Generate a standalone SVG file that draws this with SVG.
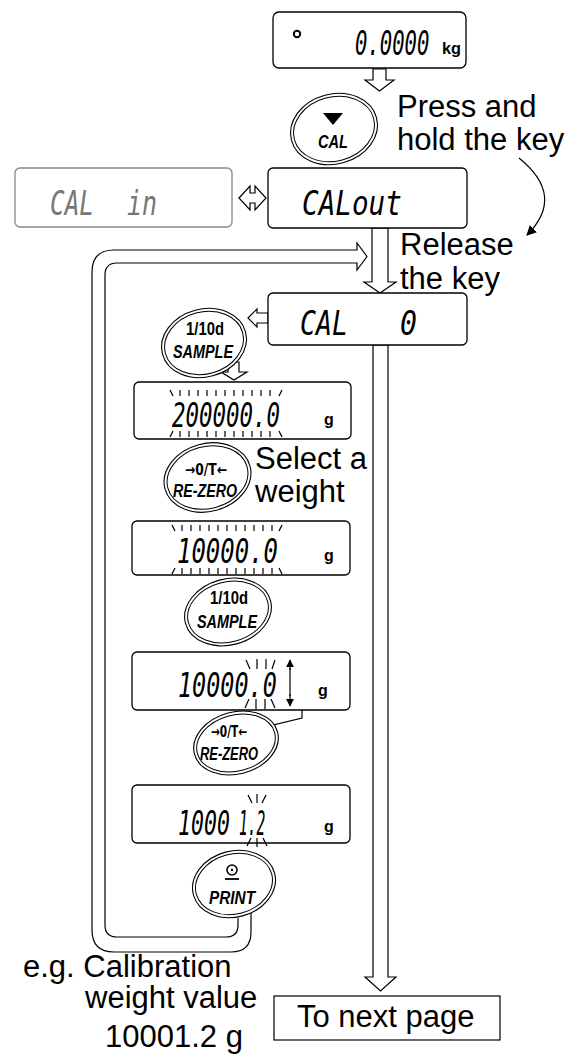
<svg xmlns="http://www.w3.org/2000/svg" width="585" height="1064" viewBox="0 0 585 1064">
<style>
.disp{fill:#fff;stroke:#000;stroke-width:1.3}
.dispg{fill:#fff;stroke:#888;stroke-width:1.3}
.seg{font-family:"DejaVu Sans Mono",monospace;font-style:oblique;font-size:34px;fill:#000}
.segg{font-family:"DejaVu Sans Mono",monospace;font-style:oblique;font-size:34px;fill:#777}
.unit{font-family:"Liberation Sans",Arial,sans-serif;font-weight:bold;font-size:16px;fill:#000}
.lbl{font-family:"Liberation Sans",Arial,sans-serif;font-size:31px;fill:#000}
.k1{font-family:"Liberation Sans",Arial,sans-serif;font-weight:bold;font-size:18px;fill:#000;text-anchor:middle}
.k3{font-family:"DejaVu Sans",sans-serif;font-weight:bold;font-size:15px;fill:#000;text-anchor:middle}
.k2{font-family:"Liberation Sans",Arial,sans-serif;font-weight:bold;font-style:italic;font-size:19px;fill:#000;text-anchor:middle}
.key{fill:#fff;stroke:#000;stroke-width:1.1}
.keyi{fill:none;stroke:#000;stroke-width:1}
.hollow{fill:#fff;stroke:#000;stroke-width:1.2;stroke-linejoin:miter}
.tick{stroke:#000;stroke-width:1.2}
.ln{fill:none;stroke:#000;stroke-width:1.2}
</style>
<defs>
<marker id="ah" viewBox="0 0 10 10" refX="9" refY="5" markerWidth="8" markerHeight="8" orient="auto" markerUnits="userSpaceOnUse"><path d="M0,0 L10,5 L0,10 z" fill="#000"/></marker>
<marker id="ah2" viewBox="0 0 10 10" refX="9" refY="5" markerWidth="10" markerHeight="10" orient="auto" markerUnits="userSpaceOnUse"><path d="M0,0 L10,5 L0,10 z" fill="#000"/></marker>
</defs>

<g id="connectors">
  <polygon class="hollow" points="373,69 386,69 386,80 394,80 379.5,91 365,80 373,80"/>
  <polygon class="hollow" points="239,198 250,186 250,193 255,193 255,186 266,198 255,210 255,203 250,203 250,210"/>
  <path class="ln" d="M519,158 Q566,196 527,235" marker-end="url(#ah2)"/>
  <path class="ln" d="M251,912 V932 Q251,952 231,952 H114 Q92,952 92,930 V272 Q92,250 114,250 H357 V243 L367,256.5 L357,270 V263 H117 Q105,263 105,275 V925 Q105,937 117,937 H226 Q238,937 238,925 V918"/>
  <polygon class="hollow" points="372,228 388,228 388,282 396,282 380,293 364,282 372,282"/>
  <polygon class="hollow" points="248,318 257,309 257,313 268,313 268,323 257,323 257,327"/>
  <polygon class="hollow" points="228,362 239,362 239,372 247,372 234,380 221,372 228,372"/>
  <polygon class="hollow" points="373,345 388,345 388,977 396,977 380.5,991 365,977 373,977"/>
  <path class="ln" d="M292,682 H302 V718 L252,730"/>
</g>

<g id="disp-top">
  <rect class="disp" x="273" y="12" width="193" height="56" rx="6"/>
  <circle cx="297" cy="34" r="3.2" fill="none" stroke="#000" stroke-width="2"/>
  <text class="seg" font-size="37" transform="translate(355,55) scale(0.606,1)">0.0000</text>
  <text class="unit" x="442" y="54" font-size="13" textLength="19" lengthAdjust="spacingAndGlyphs">kg</text>
</g>

<g id="key-cal">
  <ellipse class="key" cx="334" cy="129" rx="44" ry="35" transform="rotate(-15 334 129)"/>
  <ellipse class="keyi" cx="334" cy="129" rx="41" ry="32" transform="rotate(-15 334 129)"/>
  <polygon points="323,113 343,113 333,125" fill="#000"/>
  <text class="k2" x="333" y="148" textLength="30" lengthAdjust="spacingAndGlyphs">CAL</text>
</g>

<g id="label-press">
  <text class="lbl" x="397" y="117">Press and</text>
  <text class="lbl" x="397" y="150">hold the key</text>
</g>

<g id="disp-calin">
  <rect class="dispg" x="15" y="168" width="217" height="59" rx="5"/>
  <text class="segg" transform="translate(50,215) scale(0.717,1)">CAL</text>
  <text class="segg" transform="translate(127,215) scale(0.733,1)">in</text>
</g>

<g id="disp-calout">
  <rect class="disp" x="268" y="168" width="199" height="60" rx="5"/>
  <text class="seg" transform="translate(302,215) scale(0.814,1)">CALout</text>
</g>

<g id="label-release">
  <text class="lbl" x="400" y="255">Release</text>
  <text class="lbl" x="400" y="289">the key</text>
</g>

<g id="disp-cal0">
  <rect class="disp" x="268" y="293" width="199" height="52" rx="5"/>
  <text class="seg" transform="translate(300,335) scale(0.78,1)">CAL</text>
  <text class="seg" transform="translate(400,335) scale(0.83,1)">0</text>
</g>

<g id="key-sample1">
  <ellipse class="key" cx="204" cy="343" rx="43" ry="34" transform="rotate(-15 204 343)"/>
  <ellipse class="keyi" cx="204" cy="343" rx="40" ry="31" transform="rotate(-15 204 343)"/>
  <text class="k1" x="205" y="335" font-size="19" textLength="38" lengthAdjust="spacingAndGlyphs">1/10d</text>
  <text class="k2" x="203" y="358" textLength="60" lengthAdjust="spacingAndGlyphs">SAMPLE</text>
</g>

<g id="disp-200000">
  <rect class="disp" x="134" y="382" width="217" height="57" rx="5"/>
  <g class="tick">
    <line x1="170" y1="390" x2="173" y2="396"/>
    <line x1="180" y1="390" x2="180" y2="396"/><line x1="189" y1="390" x2="189" y2="396"/>
    <line x1="198" y1="390" x2="198" y2="396"/><line x1="207" y1="390" x2="207" y2="396"/>
    <line x1="216" y1="390" x2="216" y2="396"/><line x1="225" y1="390" x2="225" y2="396"/>
    <line x1="234" y1="390" x2="234" y2="396"/><line x1="243" y1="390" x2="243" y2="396"/>
    <line x1="252" y1="390" x2="252" y2="396"/><line x1="261" y1="390" x2="261" y2="396"/>
    <line x1="270" y1="390" x2="270" y2="396"/>
    <line x1="282" y1="390" x2="279" y2="396"/>
    <line x1="173" y1="431" x2="170" y2="437"/>
    <line x1="180" y1="431" x2="180" y2="437"/><line x1="189" y1="431" x2="189" y2="437"/>
    <line x1="198" y1="431" x2="198" y2="437"/><line x1="207" y1="431" x2="207" y2="437"/>
    <line x1="216" y1="431" x2="216" y2="437"/><line x1="225" y1="431" x2="225" y2="437"/>
    <line x1="234" y1="431" x2="234" y2="437"/><line x1="243" y1="431" x2="243" y2="437"/>
    <line x1="252" y1="431" x2="252" y2="437"/><line x1="261" y1="431" x2="261" y2="437"/>
    <line x1="270" y1="431" x2="270" y2="437"/>
    <line x1="279" y1="431" x2="282" y2="437"/>
  </g>
  <text class="seg" transform="translate(172,427) scale(0.66,1)">200000.0</text>
  <text class="unit" x="324" y="425">g</text>
</g>

<g id="key-rezero1">
  <ellipse class="key" cx="207.5" cy="477.5" rx="44" ry="34" transform="rotate(-15 207.5 477.5)"/>
  <ellipse class="keyi" cx="207.5" cy="477.5" rx="41" ry="31" transform="rotate(-15 207.5 477.5)"/>
  <text class="k3" x="206" y="475" textLength="42" lengthAdjust="spacingAndGlyphs">→0/T←</text>
  <text class="k2" x="205" y="497" textLength="64" lengthAdjust="spacingAndGlyphs">RE-ZERO</text>
</g>

<g id="label-select">
  <text class="lbl" x="255" y="469">Select a</text>
  <text class="lbl" x="255" y="502">weight</text>
</g>

<g id="disp-10000a">
  <rect class="disp" x="132" y="521" width="218" height="54" rx="5"/>
  <g class="tick">
    <line x1="172" y1="525" x2="175" y2="531"/>
    <line x1="182" y1="525" x2="182" y2="531"/><line x1="191" y1="525" x2="191" y2="531"/>
    <line x1="200" y1="525" x2="200" y2="531"/><line x1="209" y1="525" x2="209" y2="531"/>
    <line x1="218" y1="525" x2="218" y2="531"/><line x1="227" y1="525" x2="227" y2="531"/>
    <line x1="236" y1="525" x2="236" y2="531"/><line x1="245" y1="525" x2="245" y2="531"/>
    <line x1="254" y1="525" x2="254" y2="531"/><line x1="263" y1="525" x2="263" y2="531"/>
    <line x1="272" y1="525" x2="272" y2="531"/>
    <line x1="282" y1="525" x2="279" y2="531"/>
    <line x1="175" y1="568" x2="172" y2="574"/>
    <line x1="182" y1="568" x2="182" y2="574"/><line x1="191" y1="568" x2="191" y2="574"/>
    <line x1="200" y1="568" x2="200" y2="574"/><line x1="209" y1="568" x2="209" y2="574"/>
    <line x1="218" y1="568" x2="218" y2="574"/><line x1="227" y1="568" x2="227" y2="574"/>
    <line x1="236" y1="568" x2="236" y2="574"/><line x1="245" y1="568" x2="245" y2="574"/>
    <line x1="254" y1="568" x2="254" y2="574"/><line x1="263" y1="568" x2="263" y2="574"/>
    <line x1="272" y1="568" x2="272" y2="574"/>
    <line x1="279" y1="568" x2="282" y2="574"/>
  </g>
  <text class="seg" transform="translate(177,563) scale(0.705,1)">10000.0</text>
  <text class="unit" x="324" y="561">g</text>
</g>

<g id="key-sample2">
  <ellipse class="key" cx="228" cy="612" rx="44" ry="33" transform="rotate(-15 228 612)"/>
  <ellipse class="keyi" cx="228" cy="612" rx="41" ry="30" transform="rotate(-15 228 612)"/>
  <text class="k1" x="229" y="604" font-size="19" textLength="38" lengthAdjust="spacingAndGlyphs">1/10d</text>
  <text class="k2" x="227" y="628" textLength="60" lengthAdjust="spacingAndGlyphs">SAMPLE</text>
</g>

<g id="disp-10000b">
  <rect class="disp" x="132" y="652" width="218" height="58" rx="5"/>
  <g class="tick">
    <line x1="246" y1="660" x2="250" y2="669"/>
    <line x1="257" y1="659" x2="257" y2="669"/>
    <line x1="266" y1="659" x2="266" y2="669"/>
    <line x1="275" y1="660" x2="272" y2="669"/>
    <line x1="249" y1="699" x2="245" y2="708"/>
    <line x1="256" y1="699" x2="256" y2="709"/>
    <line x1="265" y1="699" x2="265" y2="709"/>
    <line x1="271" y1="699" x2="275" y2="708"/>
  </g>
  <text class="seg" transform="translate(178,697) scale(0.69,1)">10000.0</text>
  <line class="ln" x1="290" y1="670" x2="290" y2="660" marker-end="url(#ah)"/>
  <line class="ln" x1="290" y1="694" x2="290" y2="706" marker-end="url(#ah)"/>
  <line class="ln" x1="290" y1="668" x2="290" y2="696"/>
  <text class="unit" x="318" y="696">g</text>
</g>

<g id="key-rezero2">
  <ellipse class="key" cx="236" cy="743" rx="43" ry="31" transform="rotate(-15 236 743)"/>
  <ellipse class="keyi" cx="236" cy="743" rx="40" ry="28" transform="rotate(-15 236 743)"/>
  <text class="k3" x="229" y="737" font-size="14" textLength="36" lengthAdjust="spacingAndGlyphs">→0/T←</text>
  <text class="k2" x="229" y="760" textLength="58" lengthAdjust="spacingAndGlyphs">RE-ZERO</text>
</g>

<g id="disp-10001">
  <rect class="disp" x="132" y="785" width="218" height="58" rx="5"/>
  <g class="tick">
    <line x1="248" y1="795" x2="252" y2="803"/>
    <line x1="257" y1="794" x2="257" y2="803"/>
    <line x1="266" y1="795" x2="262" y2="803"/>
    <line x1="251" y1="838" x2="247" y2="846"/>
    <line x1="257" y1="838" x2="257" y2="847"/>
    <line x1="263" y1="838" x2="267" y2="846"/>
  </g>
  <text class="seg" transform="translate(178,835) scale(0.635,1)">1000</text>
  <text class="seg" transform="translate(239,835) scale(0.43,1)">1.2</text>
  <text class="unit" x="324" y="832">g</text>
</g>

<g id="key-print">
  <ellipse class="key" cx="234" cy="884" rx="42" ry="33" transform="rotate(-15 234 884)"/>
  <ellipse class="keyi" cx="234" cy="884" rx="39" ry="30" transform="rotate(-15 234 884)"/>
  <circle cx="232" cy="870" r="5" fill="none" stroke="#000" stroke-width="1.6"/>
  <circle cx="232" cy="870" r="1.2" fill="#000"/>
  <line x1="225" y1="879" x2="239" y2="879" stroke="#000" stroke-width="1.8"/>
  <text class="k2" x="232" y="904" textLength="46" lengthAdjust="spacingAndGlyphs">PRINT</text>
</g>

<g id="label-eg">
  <text class="lbl" x="23" y="977">e.g. Calibration</text>
  <text class="lbl" x="85" y="1008">weight value</text>
  <text class="lbl" x="105" y="1047">10001.2 g</text>
</g>

<g id="next-page">
  <rect x="274" y="996" width="226" height="44" fill="#fff" stroke="#000" stroke-width="1.2"/>
  <text class="lbl" x="297" y="1027">To next page</text>
</g>
</svg>
